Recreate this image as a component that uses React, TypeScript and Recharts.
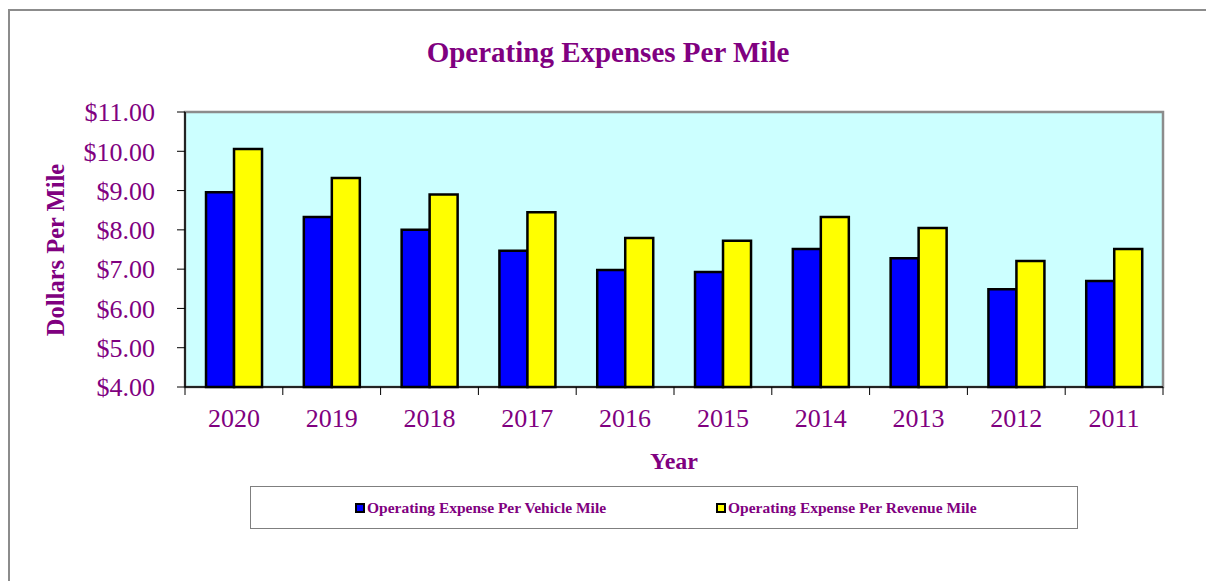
import React from "react";
import {
  BarChart,
  Bar,
  XAxis,
  YAxis,
  ReferenceArea,
  Legend,
  Label,
} from "recharts";

const years = ["2020", "2019", "2018", "2017", "2016", "2015", "2014", "2013", "2012", "2011"];
const perVehicleMile = [8.96, 8.33, 8.0, 7.47, 6.98, 6.93, 7.51, 7.28, 6.49, 6.7];
const perRevenueMile = [10.06, 9.32, 8.9, 8.45, 7.79, 7.72, 8.33, 8.05, 7.21, 7.51];
const yTicks = [4, 5, 6, 7, 8, 9, 10, 11];

const seriesKeys = ["vehicle", "revenue"];
const seriesNames: Record<string, string> = {
  vehicle: "Operating Expense Per Vehicle Mile",
  revenue: "Operating Expense Per Revenue Mile",
};

const data = years.map((year, i) => ({
  year,
  vehicle: perVehicleMile[i],
  revenue: perRevenueMile[i],
}));

const PURPLE = "#800080";
const FONT = '"Liberation Serif", "Times New Roman", serif';
const CHART_W = 1206;
const CHART_H = 581;
const MARGIN = { top: 112, right: 43, left: 0, bottom: 0 };
const Y_AXIS_W = 185;
const BAND = (CHART_W - MARGIN.right - Y_AXIS_W) / years.length;

const YearTick = (props: any) => {
  const { x, y, payload, index } = props;
  return (
    <g>
      <line x1={x - BAND / 2} y1={y - 8} x2={x - BAND / 2} y2={y} stroke="#000" strokeWidth={1} />
      {index === years.length - 1 && (
        <line x1={x + BAND / 2} y1={y - 8} x2={x + BAND / 2} y2={y} stroke="#000" strokeWidth={1} />
      )}
      <text x={x} y={y + 32} textAnchor="middle" fill={PURPLE} fontFamily={FONT} fontSize={26}>
        {payload.value}
      </text>
    </g>
  );
};

const LegendBox = (props: any) => {
  const items = [...(props.payload || [])].sort(
    (a: any, b: any) => seriesKeys.indexOf(a.dataKey) - seriesKeys.indexOf(b.dataKey)
  );
  return (
    <div
      style={{
        boxSizing: "border-box",
        width: "100%",
        height: "100%",
        border: "1.5px solid #7f7f7f",
        background: "#fff",
        display: "flex",
        alignItems: "center",
        paddingLeft: 104,
      }}
    >
      {items.map((p: any, i: number) => (
        <div key={i} style={{ display: "flex", alignItems: "center", width: 361 }}>
          <span
            style={{
              display: "inline-block",
              boxSizing: "border-box",
              width: 10,
              height: 10,
              background: p.color,
              border: "2px solid #000",
              marginRight: 2,
            }}
          />
          <span
            style={{
              fontFamily: FONT,
              fontWeight: "bold",
              fontSize: 15.5,
              color: PURPLE,
              whiteSpace: "nowrap",
            }}
          >
            {p.value}
          </span>
        </div>
      ))}
    </div>
  );
};

export default function App() {
  return (
    <div>
      <div
        style={{
          position: "fixed",
          left: 8,
          top: 9,
          width: 1300,
          height: 700,
          borderTop: "2px solid #8c8c8c",
          borderLeft: "2px solid #8c8c8c",
          background: "#fff",
        }}
      />
      <div style={{ position: "fixed", left: 0, top: 0 }}>
        <BarChart
          width={CHART_W}
          height={CHART_H}
          data={data}
          margin={MARGIN}
          barCategoryGap="21.5%"
          barGap={0}
        >
          <text
            x={608}
            y={62}
            textAnchor="middle"
            fill={PURPLE}
            fontFamily={FONT}
            fontWeight="bold"
            fontSize={29}
          >
            Operating Expenses Per Mile
          </text>
          <ReferenceArea
            y1={4}
            y2={11}
            fill="#CCFFFF"
            fillOpacity={1}
            stroke="#8c8c8c"
            strokeWidth={2.5}
            ifOverflow="visible"
          />
          <XAxis
            dataKey="year"
            height={151}
            axisLine={{ stroke: "#000", strokeWidth: 1.5 }}
            tickLine={false}
            tickSize={8}
            tickMargin={0}
            tick={<YearTick />}
            interval={0}
          >
            <Label
              content={() => (
                <text
                  x={674}
                  y={469}
                  textAnchor="middle"
                  fill={PURPLE}
                  fontFamily={FONT}
                  fontWeight="bold"
                  fontSize={24}
                >
                  Year
                </text>
              )}
            />
          </XAxis>
          <YAxis
            domain={[4, 11]}
            ticks={yTicks}
            width={Y_AXIS_W}
            interval={0}
            axisLine={{ stroke: "#000", strokeWidth: 1.5 }}
            tickLine={{ stroke: "#000" }}
            tickSize={8}
            tickMargin={22}
            tickFormatter={(v: number) => `$${v.toFixed(2)}`}
            tick={{ fill: PURPLE, fontFamily: FONT, fontSize: 26 }}
          >
            <Label
              content={() => (
                <text
                  x={64}
                  y={250}
                  transform="rotate(-90, 64, 250)"
                  textAnchor="middle"
                  fill={PURPLE}
                  fontFamily={FONT}
                  fontWeight="bold"
                  fontSize={24.5}
                >
                  Dollars Per Mile
                </text>
              )}
            />
          </YAxis>
          <Legend
            content={<LegendBox />}
            verticalAlign="bottom"
            wrapperStyle={{ left: 250, top: 486, bottom: "auto", width: 828, height: 43 }}
          />
          <Bar
            dataKey="vehicle"
            name={seriesNames.vehicle}
            fill="#0000FF"
            stroke="#000"
            strokeWidth={2.5}
            isAnimationActive={false}
          />
          <Bar
            dataKey="revenue"
            name={seriesNames.revenue}
            fill="#FFFF00"
            stroke="#000"
            strokeWidth={2.5}
            isAnimationActive={false}
          />
        </BarChart>
      </div>
    </div>
  );
}
